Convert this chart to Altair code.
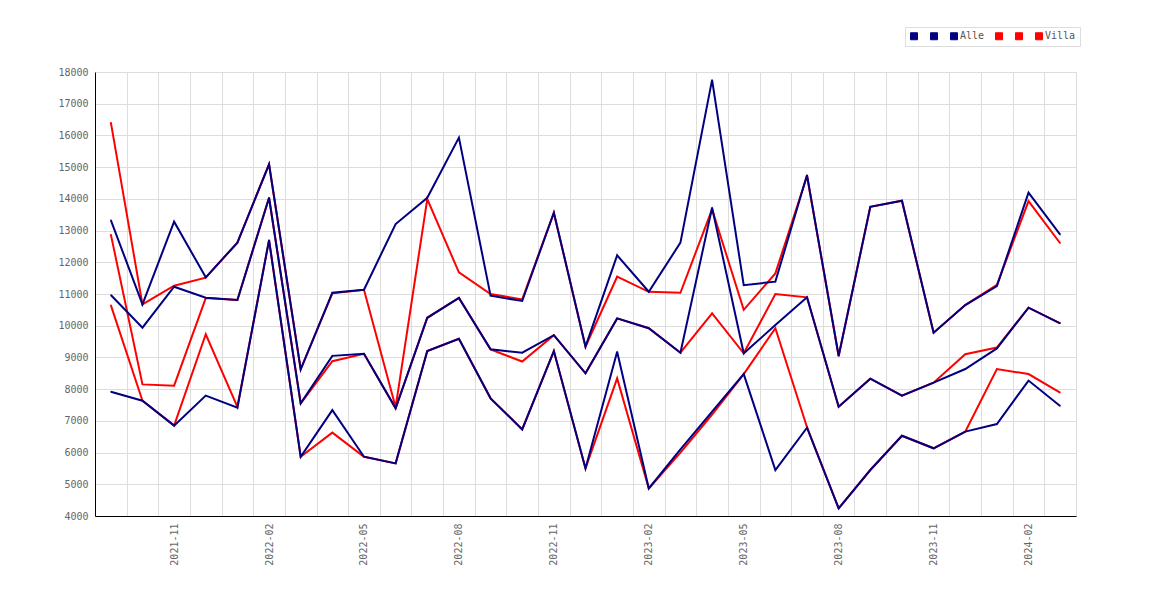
import json
import altair as alt
import pandas as pd

months = ["2021-09", "2021-10", "2021-11", "2021-12", "2022-01", "2022-02", "2022-03",
          "2022-04", "2022-05", "2022-06", "2022-07", "2022-08", "2022-09", "2022-10",
          "2022-11", "2022-12", "2023-01", "2023-02", "2023-03", "2023-04", "2023-05",
          "2023-06", "2023-07", "2023-08", "2023-09", "2023-10", "2023-11", "2023-12",
          "2024-01", "2024-02", "2024-03"]

shown_ticks = ["2021-11", "2022-02", "2022-05", "2022-08", "2022-11", "2023-02",
               "2023-05", "2023-08", "2023-11", "2024-02"]

y_ticks = [4000, 5000, 6000, 7000, 8000, 9000, 10000, 11000, 12000, 13000,
           14000, 15000, 16000, 17000, 18000]

alle_high = [13330, 10675, 13280, 11525, 12620, 15090, 8625, 11040, 11135, 13205,
             14035, 15930, 10945, 10780, 13565, 9340, 12220, 11070, 12620, 17750,
             11280, 11390, 14750, 9045, 13750, 13940, 9780, 10650, 11250, 14195, 12870]
alle_mid = [10970, 9940, 11230, 10885, 10810, 14035, 7550, 9050, 9115, 7395,
            10250, 10875, 9255, 9150, 9700, 8500, 10230, 9920, 9150, 13720,
            9130, 10020, 10895, 7445, 8330, 7795, 8205, 8635, 9285, 10570, 10075]
alle_low = [7920, 7635, 6850, 7795, 7415, 12700, 5870, 7340, 5870, 5660,
            9200, 9590, 7710, 6730, 9200, 5500, 9180, 4870, 6100, 7290,
            8475, 5450, 6785, 4240, 5450, 6530, 6135, 6660, 6900, 8270, 7470]

villa_high = [16410, 10675, 11260, 11515, 12620, 15090, 8625, 11020, 11135, 7430,
              13990, 11680, 11000, 10830, 13565, 9340, 11545, 11070, 11040, 13670,
              10500, 11650, 14720, 9045, 13750, 13940, 9780, 10650, 11285, 13930, 12600]
villa_mid = [12880, 8150, 8110, 10870, 10810, 14035, 7550, 8880, 9115, 7395,
             10250, 10875, 9255, 8870, 9700, 8500, 10230, 9920, 9150, 10390,
             9130, 11000, 10895, 7445, 8330, 7795, 8205, 9100, 9310, 10570, 10075]
villa_low = [10650, 7635, 6850, 9730, 7440, 12700, 5870, 6630, 5870, 5660,
             9200, 9590, 7710, 6730, 9200, 5500, 8340, 4870, 6000, 7200,
             8475, 9920, 6800, 4240, 5450, 6530, 6135, 6660, 8635, 8475, 7890]

series_names = ["Alle (1)", "Alle (2)", "Alle", "Villa (1)", "Villa (2)", "Villa"]
series_groups = ["Alle", "Alle", "Alle", "Villa", "Villa", "Villa"]
series_values = [alle_high, alle_mid, alle_low, villa_high, villa_mid, villa_low]
series_colors = ["#000080", "#000080", "#000080", "#ff0000", "#ff0000", "#ff0000"]

rows = []
for name, grp, vals in zip(series_names, series_groups, series_values):
    for m, v in zip(months, vals):
        rows.append({"month": m, "value": v, "series": name, "group": grp})
df = pd.DataFrame(rows)

FONT = "DejaVu Sans Mono"

x_enc = alt.X(
    "month:O",
    bandPosition=0.5,
    scale=alt.Scale(type="band", paddingInner=0, paddingOuter=0),
    axis=alt.Axis(
        title=None,
        tickBand="extent",
        ticks=False,
        grid=True,
        gridColor="#dddddd",
        domainColor="#000000",
        labelAngle=270,
        labelAlign="right",
        labelBaseline="middle",
        labelOverlap=False,
        labelPadding=7,
        labelFont=FONT,
        labelFontSize=10,
        labelColor="#666666",
        labelExpr="indexof(" + json.dumps(shown_ticks).replace('"', "'") + ", datum.label) >= 0 ? datum.label : ''",
    ),
)

y_enc = alt.Y(
    "value:Q",
    scale=alt.Scale(domain=[4000, 18000], nice=False, zero=False),
    axis=alt.Axis(
        title=None,
        values=y_ticks,
        format="d",
        ticks=False,
        grid=True,
        gridColor="#dddddd",
        domainColor="#000000",
        labelPadding=7,
        labelFont=FONT,
        labelFontSize=10,
        labelColor="#666666",
    ),
)

color_scale = alt.Scale(domain=series_names, range=series_colors)

legend = alt.Legend(
    title=None,
    orient="none",
    legendX=810,
    legendY=-45,
    direction="horizontal",
    columns=6,
    symbolType="square",
    symbolSize=49,
    symbolOpacity=1,
    symbolStrokeColor="#666666",
    symbolStrokeWidth=1,
    labelFont=FONT,
    labelFontSize=10,
    labelColor="#555555",
    labelOffset=1,
    columnPadding=8,
    padding=4,
    strokeColor="#dddddd",
    labelExpr="datum.label == 'Alle' || datum.label == 'Villa' ? datum.label : ''",
)

# tiny filled squares under the line vertices: they carry the filled legend
keys = alt.Chart(df).mark_square(size=1, filled=True, opacity=1).encode(
    x=x_enc, y=y_enc,
    fill=alt.Fill("series:N", scale=color_scale, legend=legend),
)

base = alt.Chart(df).mark_line(strokeWidth=2, strokeJoin="miter").encode(
    x=x_enc, y=y_enc,
    color=alt.Color("series:N", scale=color_scale, legend=None),
    detail="series:N",
)

red = base.transform_filter(alt.datum.group == "Villa")
blue = base.transform_filter(alt.datum.group == "Alle")

chart = alt.layer(keys, red, blue).properties(
    width=981,
    height=444,
    autosize=alt.AutoSizeParams(type="none"),
    padding={"left": 87, "top": 64, "right": 86, "bottom": 76},
    background="white",
).configure_view(stroke=None)

chart.save("out.html", embed_options={"renderer": "svg", "actions": False})
